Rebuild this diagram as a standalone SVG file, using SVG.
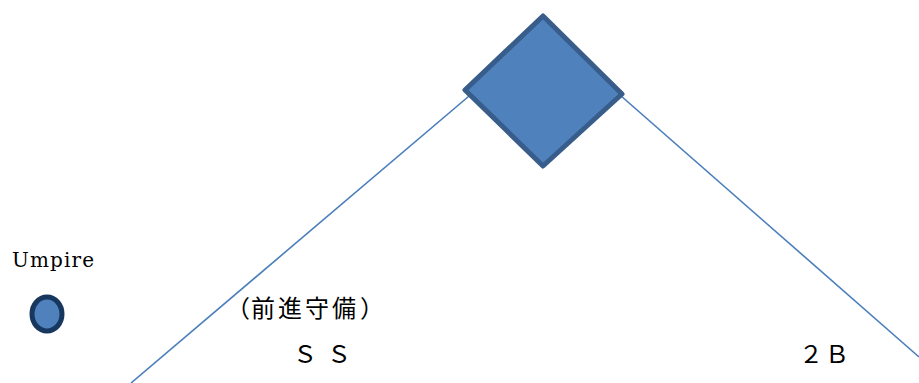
<svg xmlns="http://www.w3.org/2000/svg" width="919" height="383" viewBox="0 0 919 383">
<style>
.ln{stroke:#4a7ebb;stroke-width:1.6;fill:none}
.t{font-family:"Noto Sans CJK JP","Liberation Serif",serif;font-size:24px;fill:#000}
.m{font-family:"DejaVu Serif",serif;font-size:20px;fill:#000}
</style>
<rect width="919" height="383" fill="#fff"/>
<g id="connectors">
<line class="ln" x1="131" y1="383" x2="495" y2="74"/>
<line class="ln" x1="588" y1="67" x2="919" y2="357"/>
</g>
<g id="base">
<polygon points="543,16 622,94 543,166 465,90" fill="#4f81bd" stroke="#385d8a" stroke-width="5" stroke-linejoin="round"/>
</g>
<g id="umpire">
<ellipse cx="47" cy="314" rx="15" ry="17" fill="#4f81bd" stroke="#17375e" stroke-width="5"/>
<text class="m" x="12" y="267" textLength="82" lengthAdjust="spacing">Umpire</text>
</g>
<g id="ss">
<text class="t" x="226 251 278 305 332 360" y="317">（前進守備）</text>
<text class="t" x="293 327" y="363">ＳＳ</text>
</g>
<g id="second">
<text class="t" x="799 825" y="363">２Ｂ</text>
</g>
</svg>
